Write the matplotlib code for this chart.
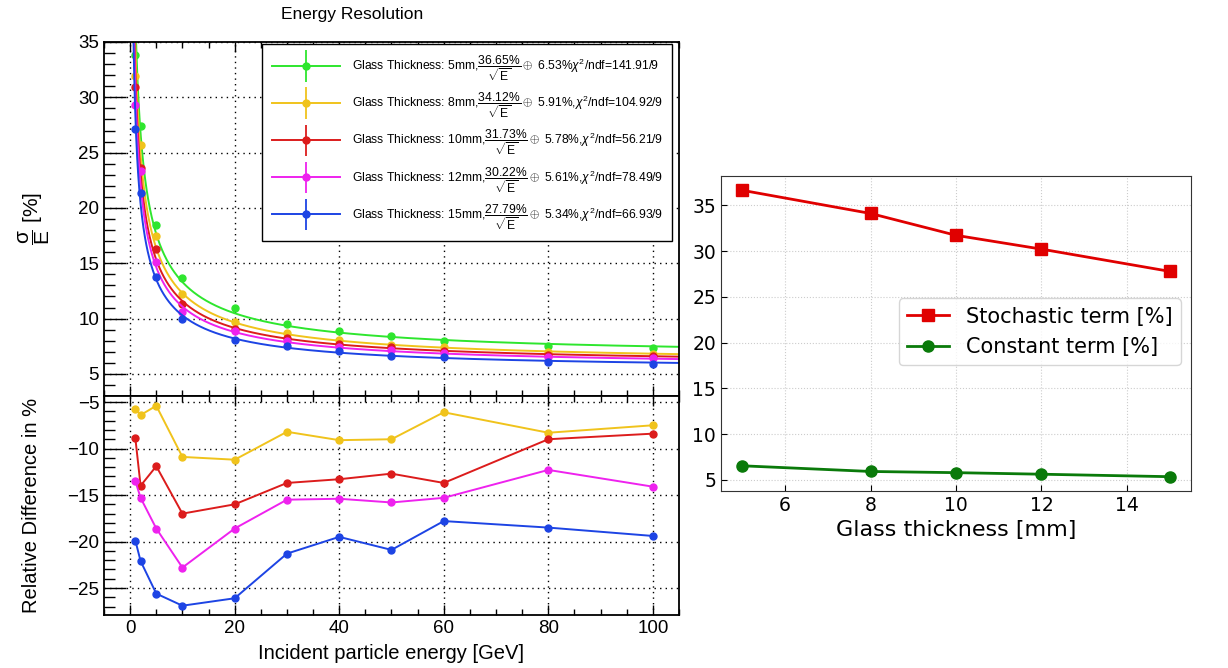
import numpy as np
import matplotlib
matplotlib.use("Agg")
import matplotlib.pyplot as plt
from matplotlib.container import ErrorbarContainer
from matplotlib.legend_handler import HandlerErrorbar, HandlerTuple
from matplotlib.ticker import MultipleLocator

# beam energies [GeV] and glass thicknesses [mm]
energy = [1, 2, 5, 10, 20, 30, 40, 50, 60, 80, 100]
thickness = [5, 8, 10, 12, 15]
thick_names = ["5mm", "8mm", "10mm", "12mm", "15mm"]

# fit results sigma/E = a/sqrt(E) (+) b
stochastic = [36.65, 34.12, 31.73, 30.22, 27.79]
constant = [6.53, 5.91, 5.78, 5.61, 5.34]
chi2_ndf = ["141.91/9", "104.92/9", "56.21/9", "78.49/9", "66.93/9"]

# measured resolution [%]
res_5mm = [33.85, 27.4, 18.5, 13.65, 10.95, 9.55, 8.85, 8.4, 8.0, 7.5, 7.3]
res_8mm = [31.9, 25.7, 17.5, 12.2, 9.7, 8.7, 8.05, 7.6, 7.45, 7.0, 6.8]
res_10mm = [30.9, 23.6, 16.3, 11.35, 9.1, 8.25, 7.7, 7.4, 7.05, 6.75, 6.65]
res_12mm = [29.3, 23.3, 15.1, 10.6, 8.9, 8.0, 7.45, 7.15, 6.85, 6.5, 6.4]
res_15mm = [27.1, 21.35, 13.75, 10.0, 8.1, 7.5, 7.1, 6.6, 6.55, 6.05, 5.85]

# relative difference w.r.t. 5mm [%]
diff_8mm = [-5.7, -6.4, -5.4, -10.9, -11.2, -8.2, -9.1, -9.0, -6.1, -8.3, -7.5]
diff_10mm = [-8.9, -14.0, -11.9, -17.0, -16.0, -13.7, -13.3, -12.7, -13.7, -9.0, -8.4]
diff_12mm = [-13.5, -15.3, -18.6, -22.8, -18.6, -15.5, -15.4, -15.8, -15.3, -12.3, -14.1]
diff_15mm = [-19.9, -22.1, -25.6, -26.9, -26.1, -21.3, -19.5, -20.9, -17.8, -18.5, -19.4]

colors = ["#2ee62e", "#f0c31c", "#dc1c1c", "#ee22ee", "#1d44e4"]

plt.rcParams["font.family"] = ["Liberation Sans", "DejaVu Sans"]
plt.rcParams["mathtext.fontset"] = "custom"
plt.rcParams["mathtext.rm"] = "Liberation Sans"
plt.rcParams["mathtext.it"] = "Liberation Sans:italic"
plt.rcParams["mathtext.bf"] = "Liberation Sans:bold"

W, H = 1228, 668
fig = plt.figure(figsize=(W / 100, H / 100), dpi=100)


def box(x0, y0, x1, y1):
    return [x0 / W, 1 - y1 / H, (x1 - x0) / W, (y1 - y0) / H]


ax_top = fig.add_axes(box(104, 42, 679, 396))
ax_bot = fig.add_axes(box(104, 396, 679, 615), sharex=ax_top)
ax_r = fig.add_axes(box(721, 176, 1191, 491))


def root_style(ax):
    ax.grid(True, which="major", color="black", linestyle=(0, (1, 3)), linewidth=1.0)
    ax.xaxis.set_major_locator(MultipleLocator(20))
    ax.xaxis.set_minor_locator(MultipleLocator(5))
    ax.yaxis.set_major_locator(MultipleLocator(5))
    ax.yaxis.set_minor_locator(MultipleLocator(1))
    ax.tick_params(axis="both", which="both", direction="in", top=True, right=False,
                   labelsize=13.5, width=1.0)
    ax.tick_params(axis="y", which="major", length=16)
    ax.tick_params(axis="y", which="minor", length=8)
    ax.tick_params(axis="x", which="major", length=7)
    ax.tick_params(axis="x", which="minor", length=4)
    for s in ax.spines.values():
        s.set_linewidth(1.3)


# --- resolution vs energy ---
E_fine = np.linspace(0.3, 105, 1500)
res_all = [res_5mm, res_8mm, res_10mm, res_12mm, res_15mm]
handles = []
for i in range(5):
    a, b = stochastic[i], constant[i]
    fit = np.sqrt((a / np.sqrt(E_fine)) ** 2 + b ** 2)
    line, = ax_top.plot(E_fine, fit, color=colors[i], lw=1.4)
    ax_top.plot(energy, res_all[i], "o", color=colors[i], ms=5)
    eb = ax_top.errorbar([], [], yerr=[], fmt="o", color=colors[i], ms=5,
                         capsize=5, elinewidth=1.3, capthick=1.3)
    handles.append((line, eb))

labels = []
for i in range(5):
    sep = "," if i > 0 else ""
    labels.append("Glass Thickness: %s,$\\dfrac{%.2f\\%%}{\\sqrt{\\mathrm{E}}}\\oplus$ %.2f%%%s$\\chi^{2}$/ndf=%s"
                  % (thick_names[i], stochastic[i], constant[i], sep, chi2_ndf[i]))

leg = ax_top.legend(handles, labels, loc="upper right", bbox_to_anchor=(0.988, 0.994),
                    borderaxespad=0, fontsize=8.7, handlelength=5.6, handletextpad=1.0,
                    labelspacing=0.62, borderpad=0.8, fancybox=False, framealpha=1,
                    edgecolor="black",
                    handler_map={tuple: HandlerTuple(ndivide=1),
                                 ErrorbarContainer: HandlerErrorbar(yerr_size=1.3)})
leg.get_frame().set_linewidth(1.0)

ax_top.set_xlim(-5, 105)
ax_top.set_ylim(3, 35)
root_style(ax_top)
ax_top.tick_params(labelbottom=False)
ax_top.set_ylabel(r"$\dfrac{\mathrm{\sigma}}{\mathrm{E}}$ [%]", fontsize=15)
ax_top.yaxis.set_label_coords(-0.09, 0.5)
fig.text(352 / W, 1 - 15 / H, "Energy Resolution", ha="center", va="center", fontsize=12.5)

# --- relative difference ---
diff_all = [diff_8mm, diff_10mm, diff_12mm, diff_15mm]
for i in range(4):
    ax_bot.plot(energy, diff_all[i], "o-", color=colors[i + 1], ms=5, lw=1.4)
ax_bot.set_ylim(-27.9, -4.35)
root_style(ax_bot)
ax_bot.set_xlabel("Incident particle energy [GeV]", fontsize=14.5, labelpad=5)
ax_bot.set_ylabel("Relative Difference in %", fontsize=14.5)
ax_bot.yaxis.set_label_coords(-0.11, 0.5)

# --- fit parameters vs thickness ---
ax_r.plot(thickness, stochastic, "s-", color="#e00000", ms=8, lw=2,
          label="Stochastic term [%]")
ax_r.plot(thickness, constant, "o-", color="#0a7a0a", ms=8, lw=2,
          label="Constant term [%]")
ax_r.grid(True, color="#cccccc", linestyle=":", linewidth=0.8)
ax_r.tick_params(direction="in", labelsize=13.5, length=4)
for lab in ax_r.get_xticklabels() + ax_r.get_yticklabels():
    lab.set_fontfamily("DejaVu Sans")
ax_r.set_xlabel("Glass thickness [mm]", fontsize=16, fontfamily="DejaVu Sans")
for s in ax_r.spines.values():
    s.set_color("#333333")
rleg = ax_r.legend(loc="center right", bbox_to_anchor=(1.0, 0.505),
                   prop={"family": "DejaVu Sans", "size": 15}, framealpha=0.8,
                   edgecolor="#cccccc")

fig.savefig("out.png", dpi=100)
